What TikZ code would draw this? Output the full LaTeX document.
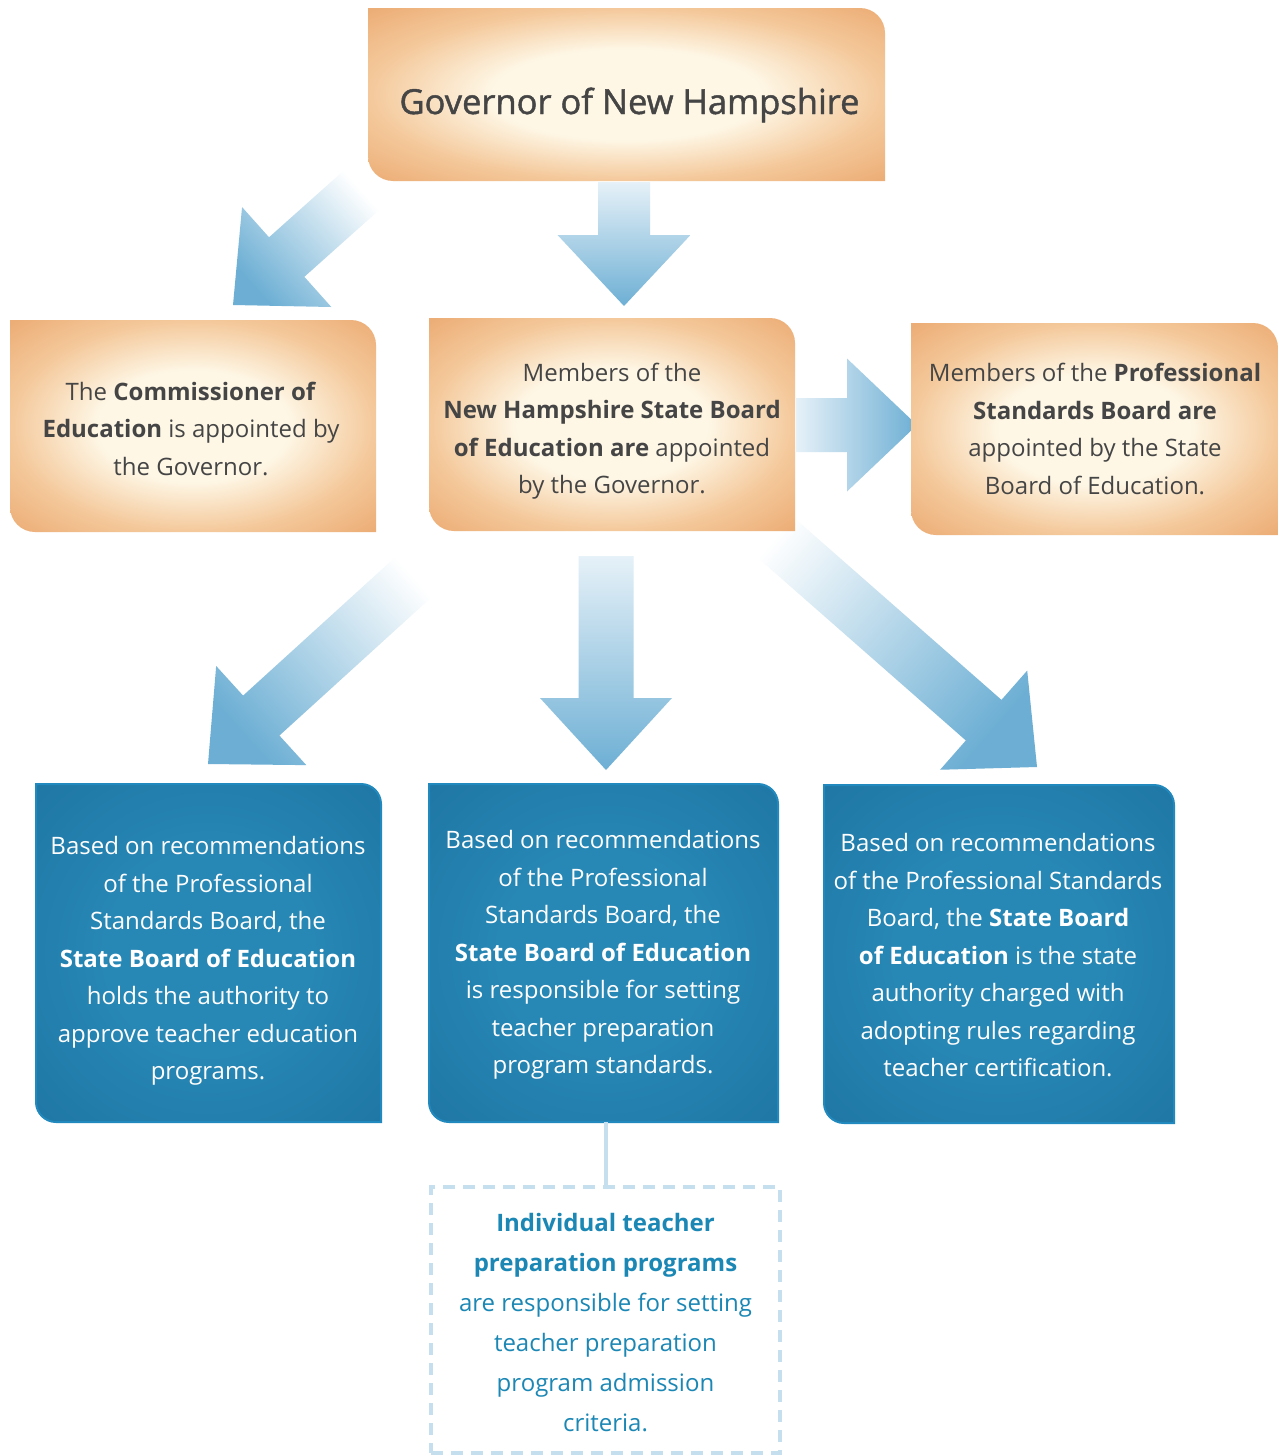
\documentclass[tikz,border=0pt]{standalone}
\usepackage{fontspec}
\setmainfont{Open Sans}
\newfontfamily\govfont[FakeBold=1.3]{Open Sans}
\usetikzlibrary{calc}
\definecolor{ocream}{HTML}{FEF7E6}
\definecolor{omid}{HTML}{F4C89A}
\definecolor{oedge}{HTML}{ECAD76}
\definecolor{bcenter}{HTML}{2787B5}
\definecolor{bedge}{HTML}{1F77A5}
\definecolor{bborder}{HTML}{2189BE}
\definecolor{arrblue}{HTML}{6DAFD4}
\definecolor{arrlight}{HTML}{E6F1F8}
\definecolor{otext}{HTML}{454545}
\definecolor{itext}{HTML}{1B87B5}
\definecolor{dashcol}{HTML}{C6DFEE}
\pgfdeclareradialshading{oshade}{\pgfpoint{0bp}{0bp}}{color(0bp)=(ocream); color(13bp)=(ocream); color(25bp)=(omid); color(35bp)=(oedge); color(50bp)=(oedge)}
\pgfdeclareradialshading{bshade}{\pgfpoint{0bp}{0bp}}{color(0bp)=(bcenter); color(15bp)=(bcenter); color(35bp)=(bedge); color(50bp)=(bedge)}
\newcommand\cutbox[2]{let \p1=(#1.north west), \p2=(#1.south east) in
  (\x1,\y1) -- (\x2-#2,\y1) arc[start angle=90,end angle=0,radius=#2] -- (\x2,\y2) -- (\x1+#2,\y2) arc[start angle=270,end angle=180,radius=#2] -- cycle}
\newcommand\blockarrow[6]{%
  \path[#6] let \p1=($(#2)!#5!(#1)$) in
    ($(#1)!#3!90:(#2)$) -- ($(\p1)!#3!90:(#2)$) -- ($(\p1)!#4!90:(#2)$) -- (#2)
    -- ($(\p1)!#4!-90:(#2)$) -- ($(\p1)!#3!-90:(#2)$) -- ($(#1)!#3!-90:(#2)$) -- cycle;}
\begin{document}
\begin{tikzpicture}[x=1pt,y=-1pt,
  boxnode/.style={inner sep=0pt, outer sep=0pt},
  obox/.style={shade, shading=oshade},
  bbox/.style={shade, shading=bshade, draw=bborder, line width=2pt},
  otxt/.style={align=center, text=otext, inner sep=0pt, font=\fontsize{24}{37.5}\selectfont},
  btxt/.style={align=center, text=white, inner sep=0pt, font=\fontsize{24}{37.5}\selectfont},
  vshade/.style={top color=arrlight, bottom color=arrblue},
  hshade/.style={left color=arrlight, right color=arrblue},
  dlshade/.style={top color=white, bottom color=arrblue, shading angle=-48},
  drshade/.style={top color=white, bottom color=arrblue, shading angle=49}]
\path[use as bounding box, fill=white] (0,0) rectangle (1279,1456);
% box frames
\node[boxnode, minimum width=517pt, minimum height=173pt] (gov) at (626.5,94.5) {};
\node[boxnode, minimum width=366pt, minimum height=212pt] (comm) at (193,426) {};
\node[boxnode, minimum width=366pt, minimum height=213pt] (sboe) at (612,424.5) {};
\node[boxnode, minimum width=367pt, minimum height=212pt] (psb) at (1094.5,429) {};
\node[boxnode, minimum width=345pt, minimum height=338pt] (b1) at (208.5,953) {};
\node[boxnode, minimum width=349pt, minimum height=338pt] (b2) at (603.5,953) {};
\node[boxnode, minimum width=350pt, minimum height=338pt] (b3) at (999,954) {};
% arrow end points
\coordinate (a1t) at (364,188); \coordinate (a1p) at (233,305);
\coordinate (a2t) at (624,182); \coordinate (a2p) at (624,306);
\coordinate (a3t) at (796,425); \coordinate (a3p) at (917,425);
\coordinate (a4t) at (429,563); \coordinate (a4p) at (208,764);
\coordinate (a5t) at (606,556); \coordinate (a5p) at (606,770);
\coordinate (a6t) at (750,515); \coordinate (a6p) at (1037,767);
% arrows
\blockarrow{a1t}{a1p}{26.5pt}{67pt}{72pt}{dlshade}
\blockarrow{a2t}{a2p}{26pt}{66.5pt}{71pt}{vshade}
\blockarrow{a3t}{a3p}{27pt}{66.5pt}{70pt}{hshade}
\blockarrow{a4t}{a4p}{27pt}{67pt}{72pt}{dlshade}
\blockarrow{a5t}{a5p}{27.5pt}{66pt}{72pt}{vshade}
\blockarrow{a6t}{a6p}{27pt}{66pt}{71pt}{drshade}
% box shapes
\path[obox] \cutbox{gov}{25pt};
\path[obox] \cutbox{comm}{25pt};
\path[obox] \cutbox{sboe}{25pt};
\path[obox] \cutbox{psb}{25pt};
\path[bbox] \cutbox{b1}{20pt};
\path[bbox] \cutbox{b2}{20pt};
\path[bbox] \cutbox{b3}{20pt};
% texts
\node[anchor=base, text=otext, inner sep=0pt, font=\govfont\fontsize{34.5}{40}\selectfont] (govt) at (629.5,114) {Governor of New Hampshire};
\node[otxt] (commt) at (191,428.5) {The \textbf{Commissioner of}\\\textbf{Education} is appointed by\\the Governor.};
\node[otxt] (sboet) at (612,431) {Members of the\\\textbf{New Hampshire State Board}\\\textbf{of Education are} appointed\\by the Governor.};
\node[otxt] (psbt) at (1095,429) {Members of the \textbf{Professional}\\\textbf{Standards Board are}\\appointed by the State\\Board of Education.};
\node[btxt] (b1t) at (208,961) {Based on recommendations\\of the Professional\\Standards Board, the\\\textbf{State Board of Education}\\holds the authority to\\approve teacher education\\programs.};
\node[btxt] (b2t) at (603,955) {Based on recommendations\\of the Professional\\Standards Board, the\\\textbf{State Board of Education}\\is responsible for setting\\teacher preparation\\program standards.};
\node[btxt] (b3t) at (998,955.5) {Based on recommendations\\of the Professional Standards\\Board, the \textbf{State Board}\\\textbf{of Education} is the state\\authority charged with\\adopting rules regarding\\teacher certification.};
% individual programs
\node[boxnode, draw=dashcol, line width=4pt, dash pattern=on 12pt off 8pt, minimum width=349pt, minimum height=266pt] (indiv) at (605.5,1320) {};
\node[align=center, text=itext, inner sep=0pt, font=\fontsize{24}{40}\selectfont] (indivt) at (605.5,1322.5) {\textbf{Individual teacher}\\\textbf{preparation programs}\\are responsible for setting\\teacher preparation\\program admission\\criteria.};
\draw[dashcol, line width=4pt] (indiv.north |- b2.south) -- (indiv.north);
\end{tikzpicture}
\end{document}
